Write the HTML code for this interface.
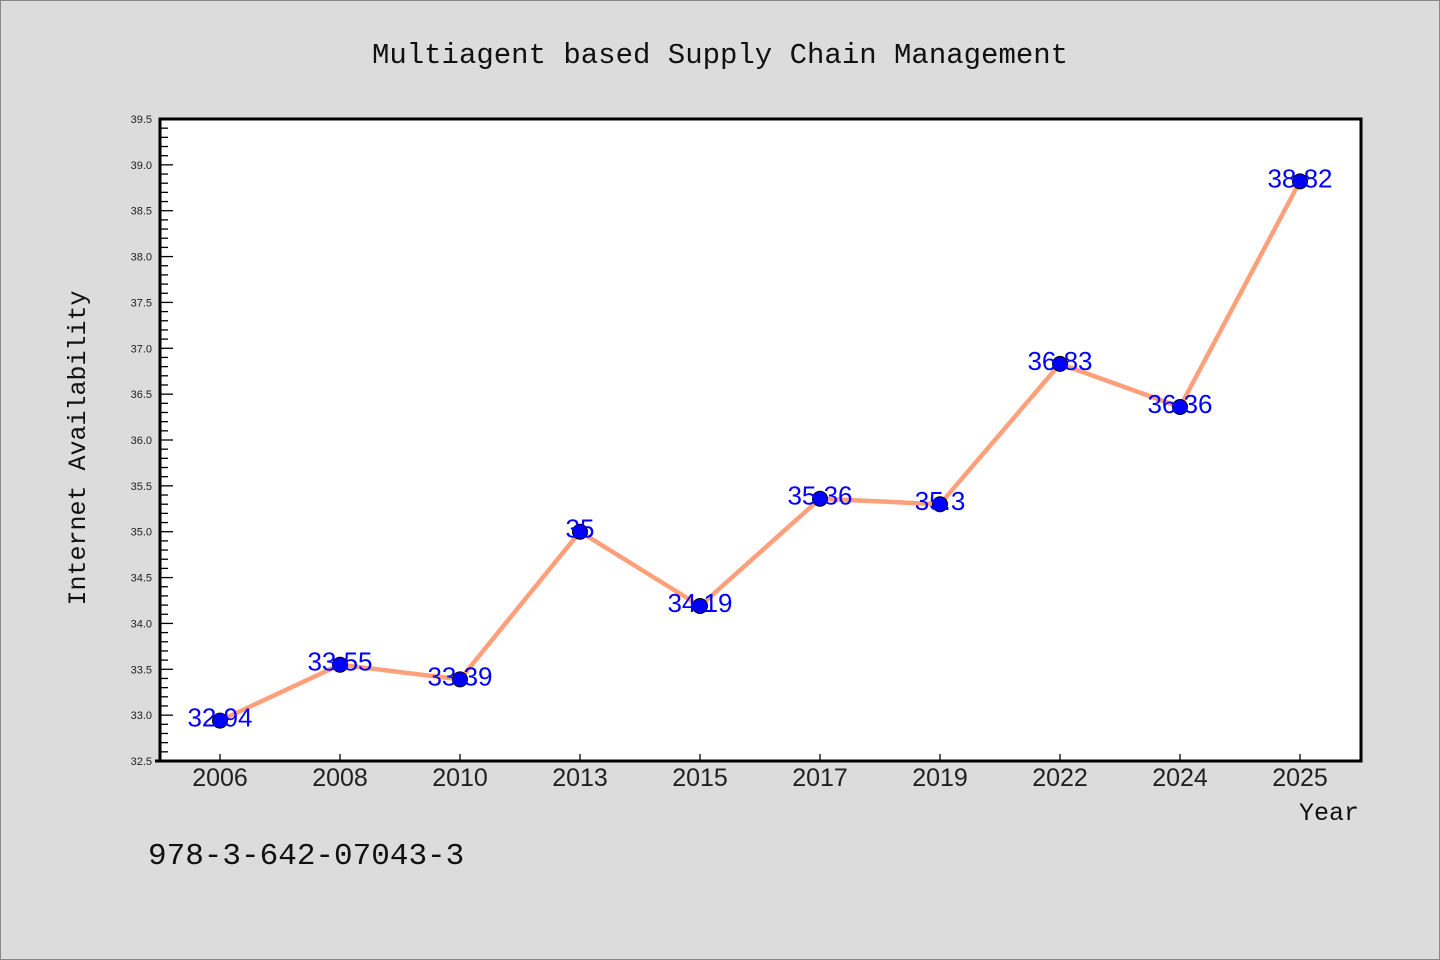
<!DOCTYPE html>
<html><head><meta charset="utf-8"><style>
html,body{margin:0;padding:0;background:#dcdcdc;}
svg{display:block;}
</style></head><body>
<svg id="chart" width="1440" height="960" xmlns="http://www.w3.org/2000/svg">
<rect x="0.5" y="0.5" width="1439" height="959" fill="#dcdcdc" stroke="#888" stroke-width="1"/>
<text x="720" y="63" text-anchor="middle" font-family="Liberation Mono, monospace" font-size="29" fill="#111">Multiagent based Supply Chain Management</text>
<rect x="160" y="119" width="1201" height="642" fill="#fff" stroke="#000" stroke-width="3"/>
<g id="yticks"></g>
<g id="xticks"></g>
<g id="series"></g>
<text transform="translate(85,448) rotate(-90)" text-anchor="middle" font-family="Liberation Mono, monospace" font-size="25" fill="#111">Internet Availability</text>
<text x="1359" y="820" text-anchor="end" font-family="Liberation Mono, monospace" font-size="25" fill="#111">Year</text>
<text x="148" y="864" font-family="Liberation Mono, monospace" font-size="31" fill="#111">978-3-642-07043-3</text>
</svg>
<script>
const categories = ["2006","2008","2010","2013","2015","2017","2019","2022","2024","2025"];
const values = [32.94,33.55,33.39,35,34.19,35.36,35.3,36.83,36.36,38.82];
const valueLabels = ["32.94","33.55","33.39","35","34.19","35.36","35.3","36.83","36.36","38.82"];
const yMin = 32.5, yMax = 39.5;
const NS = "http://www.w3.org/2000/svg";
const L = 160, R = 1361, T = 119, B = 761;
function y(v){ return B - (v - yMin) / (yMax - yMin) * (B - T); }
function x(i){ return 220 + i * 120; }
function mk(tag, attrs, parent){ const e = document.createElementNS(NS, tag); for (const k in attrs) e.setAttribute(k, attrs[k]); parent.appendChild(e); return e; }
const yg = document.getElementById('yticks');
for (let k = 0; k <= 70; k++) {
  const v = yMin + k * 0.1;
  const major = k % 5 === 0;
  const t = mk('line', {x1: L, x2: L + (major ? 13 : 8), y1: y(v), y2: y(v), stroke: '#000', 'stroke-width': 1.3}, yg);
  
  
  if (major) {
    const lb = mk('text', {x: L - 8, y: y(v) + 4, 'text-anchor': 'end', 'font-family': 'Liberation Sans, sans-serif', 'font-size': 11, fill: '#222'}, yg);
    lb.textContent = v.toFixed(1);
    
    
  }
}
const xg = document.getElementById('xticks');
mk('line', {x1: 155, x2: L, y1: B, y2: B, stroke: '#000', 'stroke-width': 3}, xg);
categories.forEach((c, i) => {
  const t = mk('line', {x1: x(i), x2: x(i), y1: B, y2: B - 7, stroke: '#000', 'stroke-width': 1.3}, xg);
  
  
  const lb = mk('text', {x: x(i), y: 786, 'text-anchor': 'middle', 'font-family': 'Liberation Sans, sans-serif', 'font-size': 25, fill: '#222'}, xg);
  lb.textContent = c;
  
  
});
const sg = document.getElementById('series');
const pts = values.map((v, i) => x(i) + ',' + y(v)).join(' ');
const line = mk('polyline', {points: pts, fill: 'none', stroke: '#ffa07a', 'stroke-width': 4.5, 'stroke-linejoin': 'round'}, sg);


values.forEach((v, i) => {
  const c = mk('circle', {cx: x(i), cy: y(v), r: 7.5, fill: '#0000ff', stroke: '#000', 'stroke-width': 1}, sg);
  
  
});
values.forEach((v, i) => {
  const lb = mk('text', {x: x(i), y: y(v) + 6, 'text-anchor': 'middle', 'font-family': 'Liberation Sans, sans-serif', 'font-size': 26, fill: '#0000ff'}, sg);
  lb.textContent = valueLabels[i];
  
  
});
</script>
</body></html>
